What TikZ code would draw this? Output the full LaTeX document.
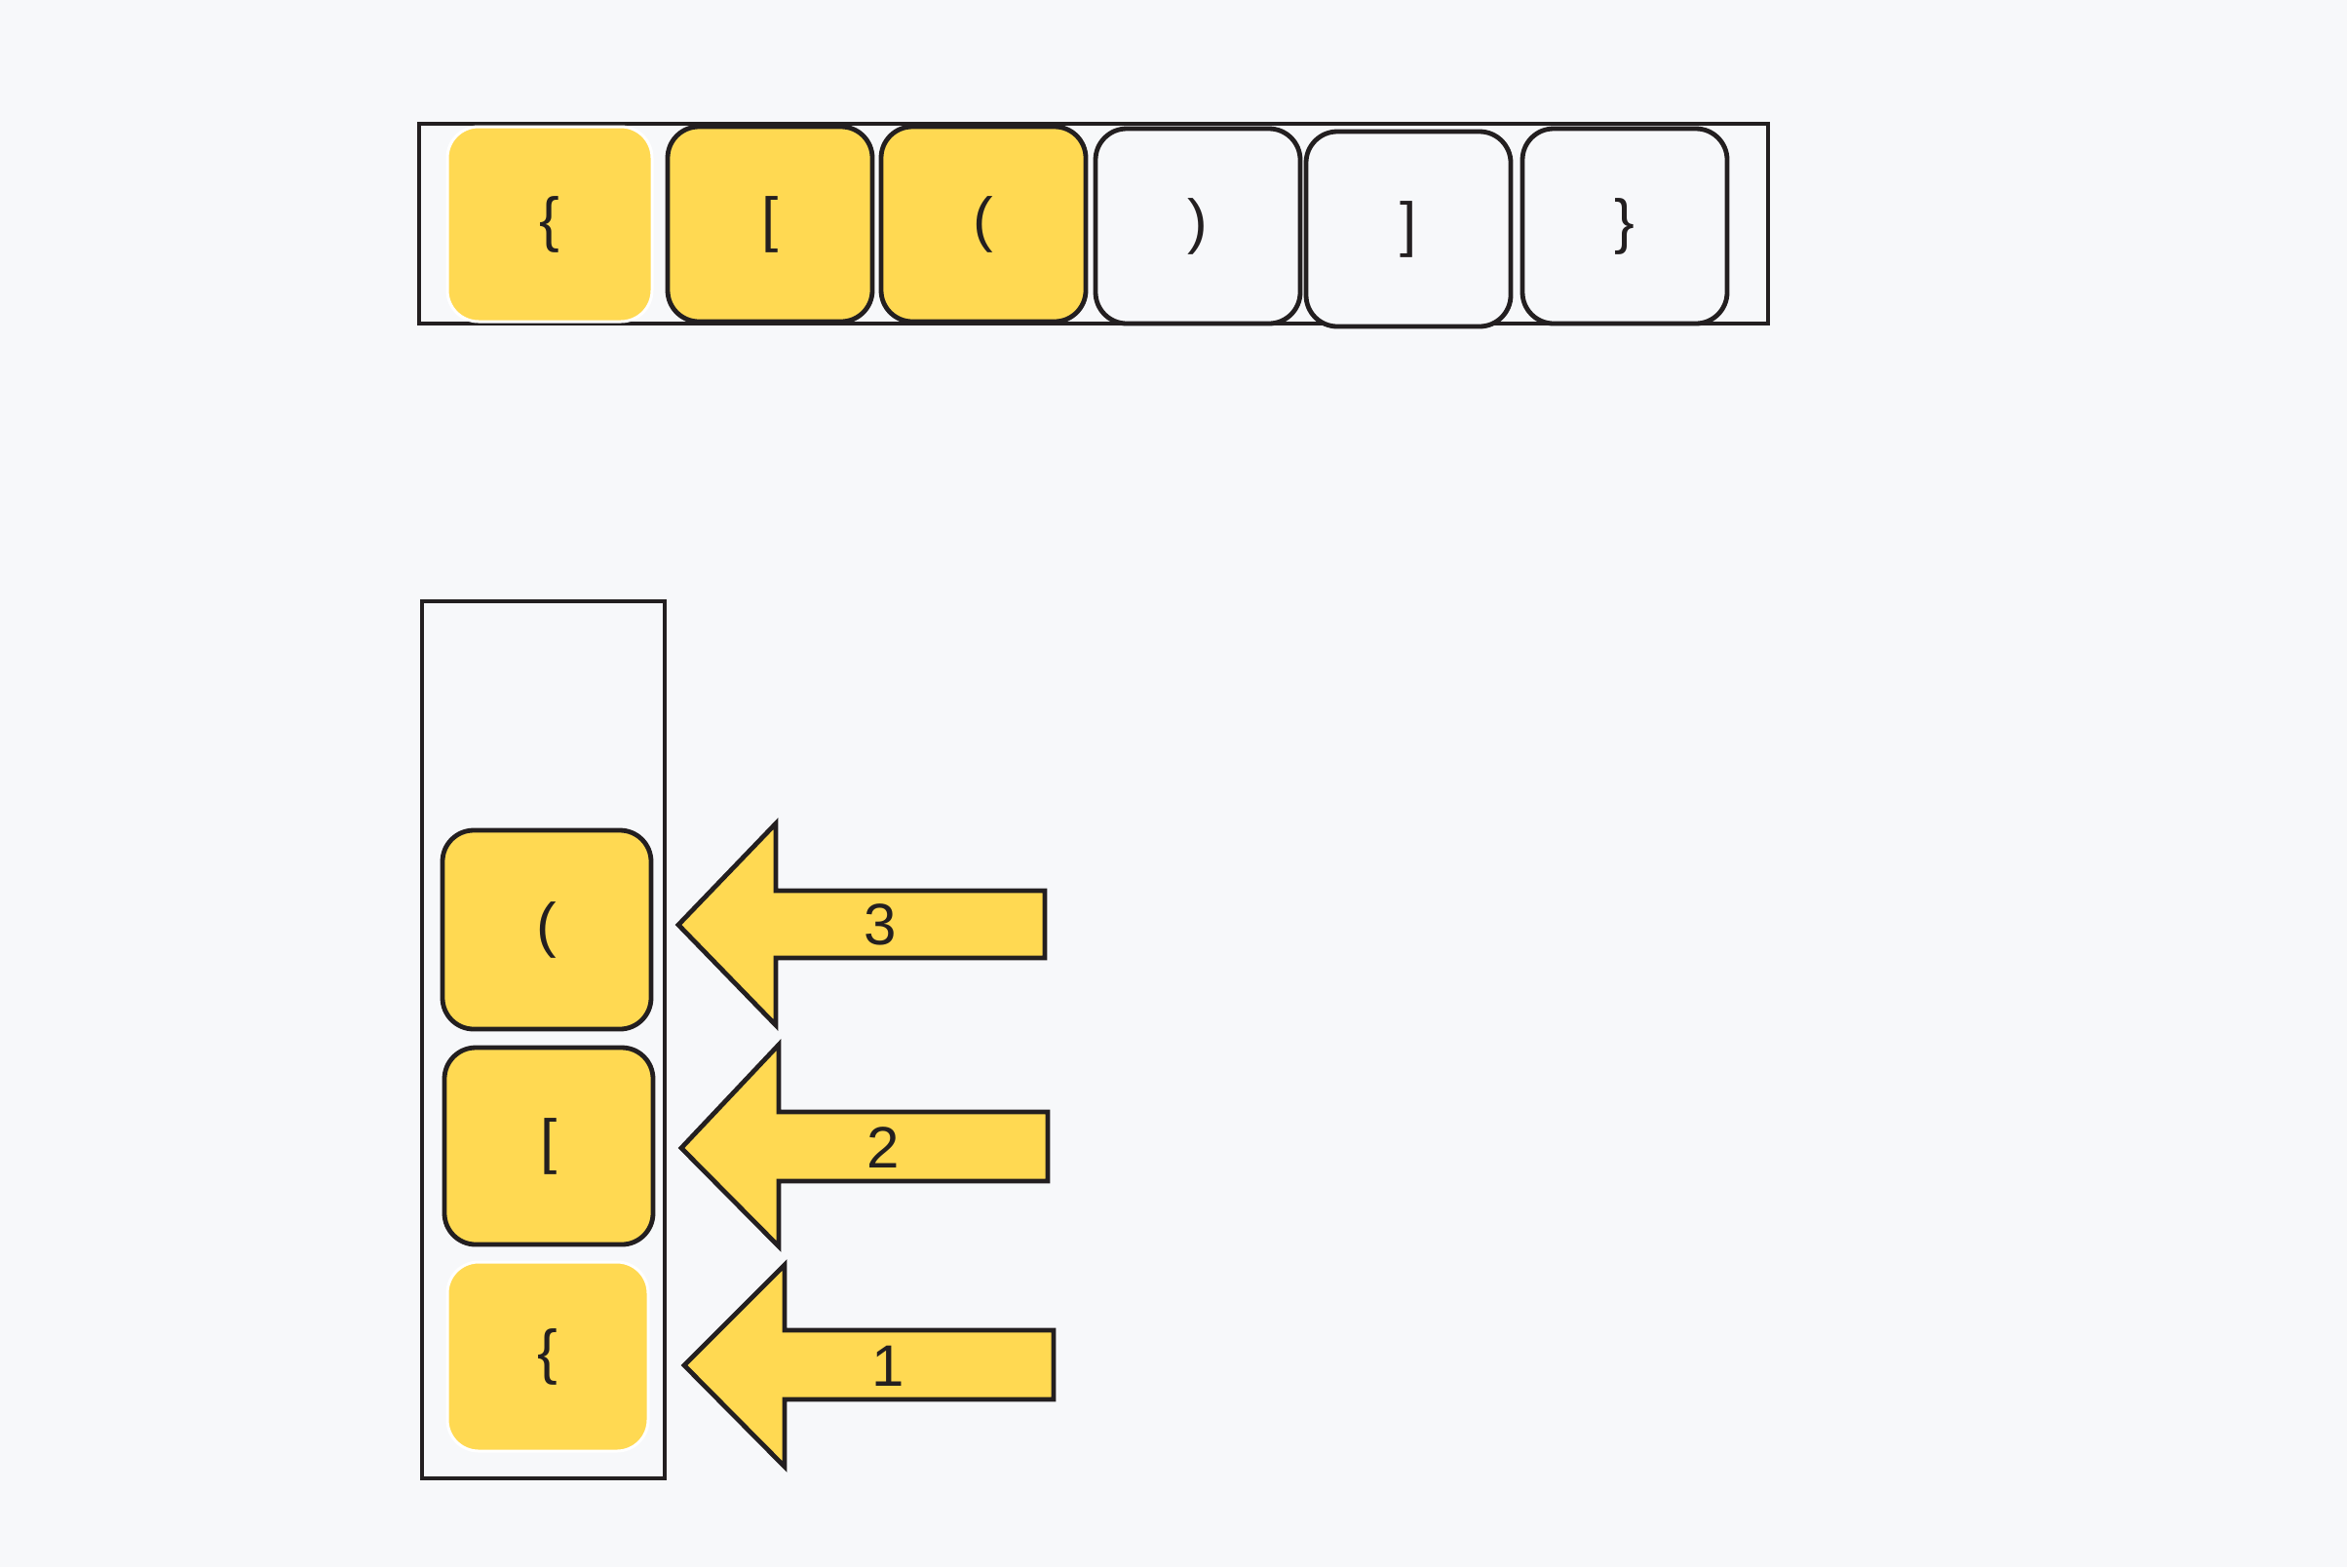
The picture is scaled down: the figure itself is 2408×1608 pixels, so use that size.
\documentclass[tikz,border=0pt]{standalone}
\usepackage{fontspec}
\setmainfont{Liberation Sans}
\definecolor{bg}{HTML}{F7F8FA}
\definecolor{yel}{HTML}{FFD952}
\definecolor{ink}{HTML}{231F20}
\begin{document}
\begin{tikzpicture}[x=0.5pt,y=-0.5pt,
  frame/.style={draw=ink,line width=2.3pt},
  cell/.style={rectangle,rounded corners=16pt,draw=ink,line width=2.4pt,inner sep=0pt,
    minimum width=105pt,minimum height=100pt,font=\fontsize{31}{31}\selectfont,text=ink},
  full/.style={cell,fill=yel},
  empty/.style={cell,fill=bg},
  base/.style={cell,fill=yel,draw=white,line width=1.5pt},
  pusharrow/.style={draw=ink,line width=2.4pt,fill=yel,line join=miter},
  num/.style={font=\fontsize{30}{30}\selectfont,text=ink,inner sep=0pt}]
\path[fill=bg,use as bounding box] (0,0) rectangle (2408,1608);

% top string
\draw[frame] (430,127) rectangle (1814,332);
\node[base]  (t1) at (564,230) {\{};
\node[full]  (t2) at (790,230) {[};
\node[full]  (t3) at (1009,230) {(};
\node[empty] (t4) at (1229,232) {)};
\node[empty] (t5) at (1445,235) {]};
\node[empty] (t6) at (1667,232) {\}};

% stack
\draw[frame] (433,617) rectangle (682,1517);
\node[full,minimum width=107pt,minimum height=102pt] (s3) at (561,954) {(};
\node[full,minimum width=107pt,minimum height=101pt] (s2) at (563,1176) {[};
\node[base,minimum width=103pt,minimum height=97pt] (s1) at (562,1392) {\{};

% push arrows
\draw[pusharrow] (696,949) -- (796,845) -- (796,914) -- (1072,914) -- (1072,983) -- (796,983) -- (796,1052) -- cycle;
\node[num] (n3) at (903,949) {3};
\draw[pusharrow] (699,1178) -- (799,1072) -- (799,1141) -- (1075,1141) -- (1075,1212) -- (799,1212) -- (799,1279) -- cycle;
\node[num] (n2) at (906,1178) {2};
\draw[pusharrow] (702,1401) -- (805,1298) -- (805,1365) -- (1081,1365) -- (1081,1436) -- (805,1436) -- (805,1505) -- cycle;
\node[num] (n1) at (911,1402) {1};
\end{tikzpicture}
\end{document}
